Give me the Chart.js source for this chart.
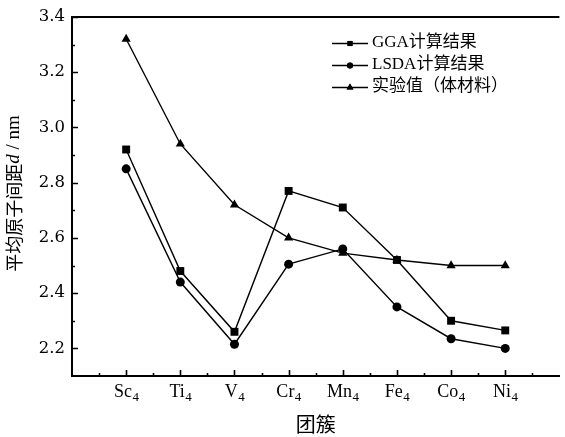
<!DOCTYPE html>
<html>
<head>
<meta charset="utf-8">
<script src="https://cdn.jsdelivr.net/npm/chart.js@4"></script>
<style>
  html, body { margin: 0; padding: 0; background: #fff; }
  #wrap { width: 565px; height: 437px; position: relative; }
</style>
</head>
<body>
<div id="wrap"><canvas id="c" width="565" height="437"></canvas></div>
<script>
// ---- data ----
const categories = ['Sc4', 'Ti4', 'V4', 'Cr4', 'Mn4', 'Fe4', 'Co4', 'Ni4'];
const ggaValues  = [2.92, 2.48, 2.26, 2.77, 2.71, 2.52, 2.30, 2.265];
const lsdaValues = [2.85, 2.44, 2.215, 2.505, 2.56, 2.35, 2.235, 2.20];
const exptValues = [3.32, 2.94, 2.72, 2.60, 2.545, 2.52, 2.50, 2.50];
const yTickValues = [2.2, 2.4, 2.6, 2.8, 3.0, 3.2, 3.4];
const yMinorValues = [2.3, 2.5, 2.7, 2.9, 3.1, 3.3];
const seriesNames = ['GGA计算结果', 'LSDA计算结果', '实验值（体材料）'];
const xTitle = '团簇';
const yTitleParts = ['平均原子间距', 'd', ' / nm'];

const SERIF = '"Liberation Serif", "Noto Sans CJK SC", serif';
const styles = [
  { pointStyle: 'rect', radius: 5.6 },
  { pointStyle: 'circle', radius: 4.5 },
  { pointStyle: 'triangle', radius: 5.3 }
];

function toPoints(vals) { return vals.map((v, i) => ({ x: i, y: v })); }

const datasets = [ggaValues, lsdaValues, exptValues].map((vals, k) => ({
  label: seriesNames[k],
  data: toPoints(vals),
  borderColor: '#000',
  backgroundColor: '#000',
  borderWidth: 1.4,
  pointStyle: styles[k].pointStyle,
  pointRadius: styles[k].radius,
  pointHoverRadius: styles[k].radius,
  pointBorderWidth: 0,
  tension: 0,
  clip: false
}));

const decor = {
  id: 'decor',
  afterDatasetsDraw(chart) {
    const ctx = chart.ctx;
    const xs = chart.scales.x, ys = chart.scales.y;
    const a = chart.chartArea;
    ctx.save();
    ctx.strokeStyle = '#000';
    ctx.fillStyle = '#000';
    // top border
    ctx.lineWidth = 2;
    ctx.beginPath();
    ctx.moveTo(a.left - 1, a.top);
    ctx.lineTo(a.right, a.top);
    ctx.stroke();
    // ticks (inward)
    ctx.lineWidth = 1.6;
    ctx.beginPath();
    yTickValues.forEach(v => {
      const y = Math.round(ys.getPixelForValue(v)) + 0.5;
      ctx.moveTo(a.left, y); ctx.lineTo(a.left + 6, y);
    });
    yMinorValues.forEach(v => {
      const y = Math.round(ys.getPixelForValue(v)) + 0.5;
      ctx.moveTo(a.left, y); ctx.lineTo(a.left + 3, y);
    });
    for (let i = 0; i < categories.length; i++) {
      const x = Math.round(xs.getPixelForValue(i)) + 0.5;
      ctx.moveTo(x, a.bottom); ctx.lineTo(x, a.bottom - 6);
    }
    for (let i = -0.5; i < categories.length; i += 1) {
      const x = Math.round(xs.getPixelForValue(i)) + 0.5;
      ctx.moveTo(x, a.bottom); ctx.lineTo(x, a.bottom - 3);
    }
    ctx.stroke();

    // x tick labels with subscripts
    ctx.textBaseline = 'middle';
    categories.forEach((c, i) => {
      const m = c.match(/^(.*?)(\d+)$/);
      const main = m ? m[1] : c, sub = m ? m[2] : '';
      ctx.font = '18px ' + SERIF;
      const w1 = ctx.measureText(main).width;
      ctx.font = '13px ' + SERIF;
      const w2 = ctx.measureText(sub).width;
      const cx = xs.getPixelForValue(i);
      const x0 = cx - (w1 + w2) / 2;
      ctx.textAlign = 'left';
      ctx.font = '18px ' + SERIF;
      ctx.fillText(main, x0, 392);
      ctx.font = '13px ' + SERIF;
      ctx.fillText(sub, x0 + w1 + 0.5, 398);
    });

    // x title
    ctx.textAlign = 'center';
    ctx.font = '20px "Noto Sans CJK SC", sans-serif';
    ctx.fillText(xTitle, (a.left + a.right) / 2, 424);

    // y title (rotated, italic d)
    const fonts = ['18px "Noto Sans CJK SC", sans-serif', 'italic 19px "Liberation Serif", serif', '19px "Liberation Serif", serif'];
    let total = 0; const widths = [];
    yTitleParts.forEach((p, k) => { ctx.font = fonts[k]; const w = ctx.measureText(p).width; widths.push(w); total += w; });
    ctx.save();
    ctx.translate(14, (a.top + a.bottom) / 2 - 3);
    ctx.rotate(-Math.PI / 2);
    ctx.textAlign = 'left';
    let px = -total / 2;
    yTitleParts.forEach((p, k) => { ctx.font = fonts[k]; ctx.fillText(p, px, 0); px += widths[k]; });
    ctx.restore();

    // legend
    const rows = [43, 65, 87];
    const sizes = [3.6, 3, 4];
    ctx.textAlign = 'left';
    ctx.font = '17px ' + SERIF;
    datasets.forEach((ds, k) => {
      const y = rows[k];
      ctx.lineWidth = 1.3;
      ctx.beginPath();
      ctx.moveTo(332, y + 0.5); ctx.lineTo(368, y + 0.5);
      ctx.stroke();
      Chart.helpers.drawPoint(ctx, { pointStyle: ds.pointStyle, radius: sizes[k], borderWidth: 0 }, 350, y + 0.5);
      ctx.fill();
      ctx.fillText(ds.label, 372, y);
    });
    ctx.restore();
  }
};

new Chart(document.getElementById('c'), {
  type: 'line',
  data: { datasets },
  options: {
    responsive: false,
    animation: false,
    devicePixelRatio: 1,
    layout: { padding: { top: 15, right: 0, left: 0, bottom: 0 } },
    plugins: { legend: { display: false }, tooltip: { enabled: false }, decor: {} },
    scales: {
      x: {
        type: 'linear', min: -1, max: 8,
        grid: { display: true, drawOnChartArea: false, drawTicks: false },
        border: { display: true, width: 2, color: '#000' },
        ticks: { display: false },
        afterFit(s) { s.height = 61; }
      },
      y: {
        type: 'linear', min: 2.1, max: 3.4,
        grid: { display: true, drawOnChartArea: false, drawTicks: false },
        border: { display: true, width: 2, color: '#000' },
        afterBuildTicks(s) { s.ticks = yTickValues.map(v => ({ value: v })); },
        ticks: {
          color: '#000', padding: 7,
          font: { family: '"DejaVu Serif", serif', size: 16.5 },
          callback: v => Number(v).toFixed(1)
        },
        afterFit(s) { s.width = 72; }
      }
    }
  },
  plugins: [decor]
});
</script>
</body>
</html>
